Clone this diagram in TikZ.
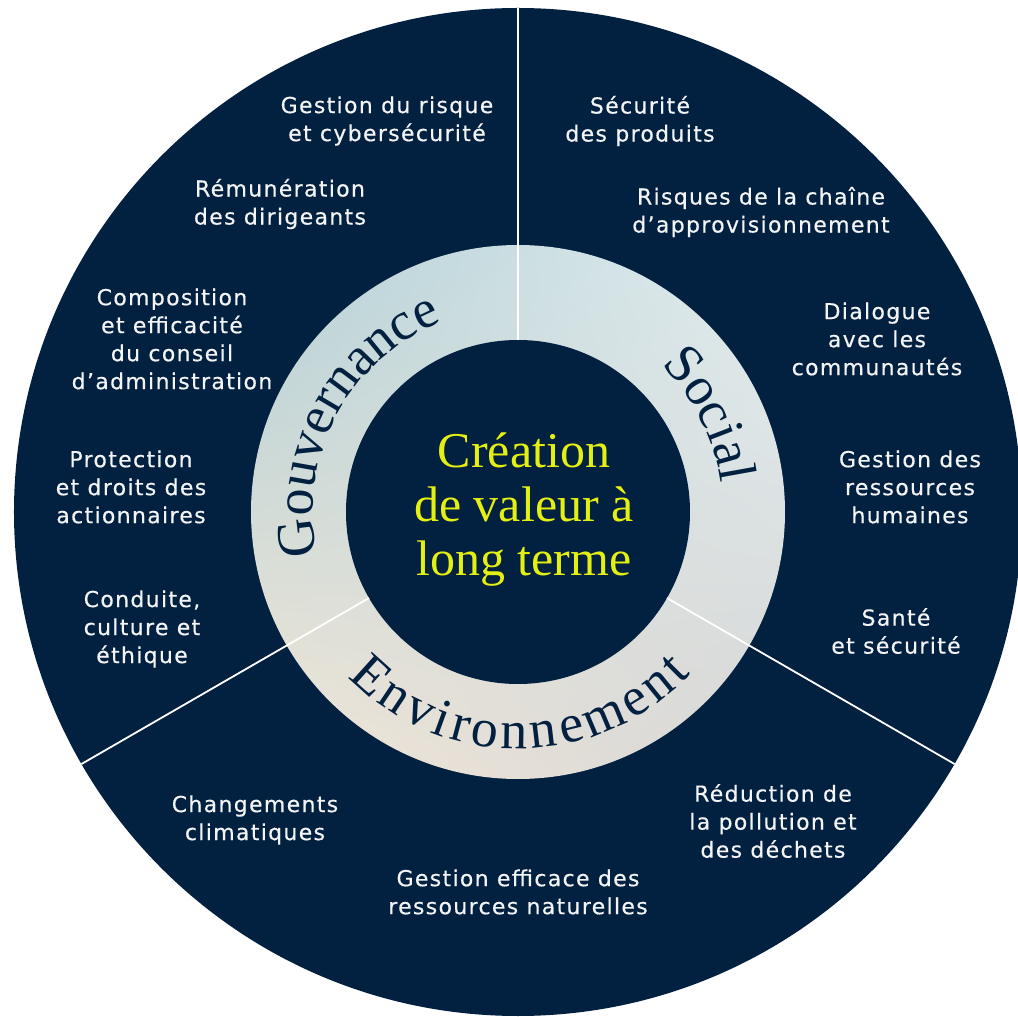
\documentclass[tikz,border=0pt]{standalone}
\usepackage{fontspec}
\usepackage{xcolor}
\usetikzlibrary{decorations.text,shadings}
\newfontfamily\labelfont[LetterSpace=6,FakeBold=0.4]{DejaVu Sans}
\newfontfamily\serifont{Liberation Serif}
\definecolor{navy}{HTML}{02203F}
\definecolor{lemon}{HTML}{E4F011}
\definecolor{ringteal}{HTML}{B3D0D6}
\definecolor{ringpale}{HTML}{E2EDEF}
\definecolor{ringcream}{HTML}{F3E7D7}
\definecolor{ringgrey}{HTML}{D6D6D6}
% texte le long d'un arc : alignement, angle de depart, angle d'arrivee, rayon, texte
\def\ringlabel#1#2#3#4#5{
	\path[decorate,decoration={text along path,text align=#1,text color=navy,
		text={|\serifont\fontsize{54}{54}\selectfont|#5}}]
	(#2:#4) arc[start angle=#2,end angle=#3,radius=#4];}

\begin{document}
\begin{tikzpicture}[x=1pt,y=1pt,
	topic/.style={font=\labelfont\fontsize{22}{28}\selectfont,text=white!95!navy,align=center},
	core/.style={font=\serifont\fontsize{50}{54}\selectfont,text=lemon,align=center}]
	\useasboundingbox (-518,-505) rectangle (500,512);
	% grand disque et anneau degrade
	\fill[navy] (0,0) circle[radius=504];
	\shade[upper left=ringteal,upper right=ringpale,lower left=ringcream,lower right=ringgrey]
		(0,0) circle[radius=267];
	\fill[navy] (0,0) circle[radius=172];
	% separations des trois secteurs
	\foreach \a in {90,210,330}
		\draw[white,line width=1.8] (\a:172) -- (\a:504);
	
	\node[core] (centre) at (6,2) {Création\\de valeur à\\long terme};
	
	%anneau : deux arcs dans le sens horaire, un dans l'autre sens
	\ringlabel{center}{202}{102}{205}{Gouvernance}
	\ringlabel{center}{78}{-24}{205}{Social}
	\ringlabel{fit to path}{224}{317}{237}{Environnement}
	
	% Gouvernance
	\node[topic] (gestrisque) at (-131,391) {Gestion du risque\\et cybersécurité};
	\node[topic] (remun) at (-238,308) {Rémunération\\des dirigeants};
	\node[topic] (composition) at (-346,173) {Composition\\et efficacité\\du conseil\\d’administration};
	\node[topic] (protection) at (-387,25) {Protection\\et droits des\\actionnaires};
	\node[topic] (conduite) at (-376,-117) {Conduite,\\culture et\\éthique};
	% Social
	\node[topic] (securite) at (122,391) {Sécurité\\des produits};
	\node[topic] (risques) at (243,300) {Risques de la chaîne\\d’approvisionnement};
	\node[topic] (dialogue) at (359,173) {Dialogue\\avec les\\communautés};
	\node[topic] (gestrh) at (392,25) {Gestion des\\ressources\\humaines};
	\node[topic] (sante) at (378,-119) {Santé\\et sécurité};
	% Environnement
	\node[topic] (changements) at (-263,-308) {Changements\\climatiques};
	\node[topic] (gestnat) at (0,-380) {Gestion efficace des\\ressources naturelles};
	\node[topic] (reduction) at (255,-309) {Réduction de\\la pollution et\\des déchets};
\end{tikzpicture}
\end{document}
